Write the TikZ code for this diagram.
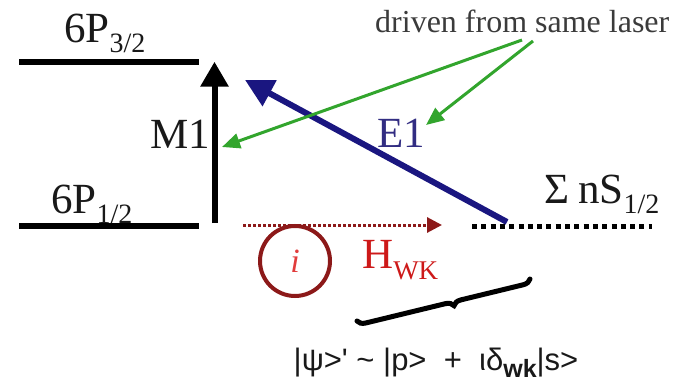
\documentclass[tikz,border=0pt]{standalone}
\usepackage{fontspec}
\setmainfont{Liberation Serif}
\newfontfamily\sansf{Liberation Sans}
\usetikzlibrary{arrows.meta,decorations.pathreplacing}
\definecolor{navyarrow}{RGB}{26,22,128}
\definecolor{etext}{RGB}{50,45,130}
\definecolor{greenarrow}{RGB}{50,165,45}
\definecolor{darkred}{RGB}{140,25,25}
\definecolor{hred}{RGB}{205,25,25}
\definecolor{ired}{RGB}{225,60,60}
\definecolor{txt}{RGB}{25,25,25}
\tikzset{
  level/.style={line width=6pt, black},
  bigtxt/.style={font=\fontsize{43}{46}\selectfont, text=txt, inner sep=0pt, anchor=base west},
  m1arrow/.style={line width=6pt, black, -{Triangle[length=25pt,width=27pt]}},
  e1arrow/.style={line width=6pt, navyarrow, -{Triangle[length=28pt,width=28pt]}},
  garrow/.style={line width=3pt, greenarrow, -{Triangle[length=18pt,width=15pt]}},
  wkarrow/.style={line width=3pt, darkred, dash pattern=on 3pt off 2pt, -{Triangle[length=15pt,width=15pt]}},
  sdots/.style={line width=5pt, black, dash pattern=on 5pt off 4.3pt},
}
\begin{document}
\begin{tikzpicture}[x=1pt,y=-1pt]
\useasboundingbox (0,0) rectangle (679,382);
% levels
\coordinate (p3l) at (19,62.5);
\coordinate (p3r) at (199,62.5);
\coordinate (p1l) at (19,225.7);
\coordinate (p1r) at (199,225.7);
\draw[level] (p3l) -- (p3r);
\draw[level] (p1l) -- (p1r);
\node[bigtxt] (l3) at (64,43) {6P\raisebox{-10pt}{\fontsize{28}{30}\selectfont 3/2}};
\node[bigtxt] (l1) at (51,213) {6P\raisebox{-10pt}{\fontsize{28}{30}\selectfont 1/2}};
% M1
\coordinate (m1b) at (214.5,223);
\coordinate (m1t) at (214.5,61.7);
\draw[m1arrow] (m1b) -- (m1t);
\node[bigtxt] (m1) at (150,149) {M1};
% E1
\coordinate (e1s) at (507,222);
\coordinate (e1t) at (245,80);
\draw[e1arrow] (e1s) -- (e1t);
\node[bigtxt, text=etext] (e1) at (377,148) {E1};
% driven
\node[font=\fontsize{32}{34}\selectfont, text=txt!85!white, inner sep=0pt, anchor=base west] (drv) at (375,32.5) {driven from same laser};
\coordinate (g1s) at (522,40);
\coordinate (g1t) at (222,147);
\coordinate (g2s) at (533,41);
\coordinate (g2t) at (426,125);
\draw[garrow] (g1s) -- (g1t);
\draw[garrow] (g2s) -- (g2t);
% nS
\coordinate (s1) at (472,226);
\coordinate (s2) at (652,226);
\draw[sdots] (s1) -- (s2);
\node[bigtxt] (ns) at (544,203) {Σ\hspace{9pt}nS\raisebox{-10pt}{\fontsize{28}{30}\selectfont 1/2}};
% weak
\coordinate (w1) at (243,225);
\coordinate (w2) at (442,225);
\draw[wkarrow] (w1) -- (w2);
\node[circle, draw=darkred, line width=4pt, minimum size=70pt, inner sep=0pt,
      text=ired, font=\fontsize{34}{36}\selectfont\itshape] (ci) at (295,261) {i};
\node[bigtxt, text=hred] (hw) at (362,268) {H\raisebox{-11pt}{\fontsize{27}{29}\selectfont WK}};
% brace
\coordinate (b1) at (357,321);
\coordinate (b2) at (530,279);
\draw[line width=5pt, line cap=round, decorate, decoration={brace, amplitude=8pt, aspect=0.55, mirror}] (b1) -- (b2);
% formula
\node[font=\sansf\fontsize{31}{33}\selectfont, text=txt, inner sep=0pt, anchor=base] (psi) at (436,370)
  {|ψ>' \textasciitilde{} |p>\ \ +\ \ ιδ\raisebox{-7pt}{\fontsize{25}{27}\selectfont\bfseries wk}|s>};
\end{tikzpicture}
\end{document}
